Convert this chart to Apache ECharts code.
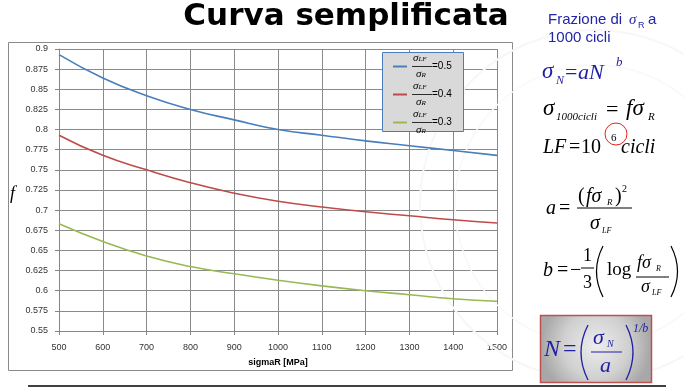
<!DOCTYPE html>
<html><head><meta charset="utf-8">
<script src="https://cdn.jsdelivr.net/npm/echarts@6/dist/echarts.min.js"></script>
<style>html,body{margin:0;padding:0;background:#fff}#c{width:684px;height:388px}</style>
</head><body><div id="c"></div>
<script>
// ---- data ----
const sigmaR = [500, 600, 700, 800, 900, 1000, 1100, 1200, 1300, 1400, 1500];
const ratios = ['0.5', '0.4', '0.3'];
const f05 = [0.893, 0.864, 0.842, 0.825, 0.812, 0.800, 0.793, 0.786, 0.780, 0.774, 0.768];
const f04 = [0.793, 0.768, 0.750, 0.734, 0.721, 0.711, 0.704, 0.698, 0.693, 0.688, 0.684];
const f03 = [0.683, 0.661, 0.643, 0.630, 0.621, 0.613, 0.606, 0.600, 0.595, 0.590, 0.587];
const yTicks = [0.55, 0.9, 0.025];
const xTicks = [500, 1500, 100];
const seriesValues = [f05, f04, f03];
const colors = ['#4a7ebb', '#be4b48', '#98b954'];

const chart = echarts.init(document.getElementById('c'), null, {renderer: 'canvas'});
const SERIF = 'Liberation Serif';
const BLUE = '#1f1fa3';

function T(x, base, text, size, o) {
  o = o || {};
  return {type: 'text', x: x, y: base - 0.33 * size, z: 100,
    style: Object.assign({text: text, fontSize: size, fontFamily: SERIF, fontStyle: 'italic',
      fill: '#000', align: 'left', verticalAlign: 'middle', textAlign: 'left', textVerticalAlign: 'middle'}, o)};
}
function U(x, base, text, size, o) { return T(x, base, text, size, Object.assign({fontStyle: 'normal'}, o || {})); }
function L(x1, y1, x2, y2, color, w) {
  return {type: 'line', z: 100, shape: {x1: x1, y1: y1, x2: x2, y2: y2}, style: {stroke: color || '#000', lineWidth: w || 1}};
}
function P(x, yTop, yBot, dx, color, w) { // parenthesis
  return {type: 'bezierCurve', z: 100, shape: {x1: x, y1: yTop, x2: x, y2: yBot, cpx1: x + dx, cpy1: (yTop + yBot) / 2},
    style: {stroke: color || '#000', lineWidth: w || 1.2, fill: null}};
}

const g = [];
// watermark
g.push({type: 'circle', z: 1, shape: {cx: 595, cy: 205, r: 175}, style: {fill: null, stroke: '#f7f7f7', lineWidth: 2}});
g.push({type: 'circle', z: 1, shape: {cx: 595, cy: 205, r: 140}, style: {fill: null, stroke: '#f8f8f8', lineWidth: 1.5}});
// chart frame
g.push({type: 'rect', z: 0, shape: {x: 8.5, y: 42.5, width: 504, height: 328}, style: {fill: '#fff', stroke: '#8a8a8a', lineWidth: 1}});
// legend box
g.push({type: 'rect', z: 50, shape: {x: 382.5, y: 52.5, width: 81, height: 79}, style: {fill: '#d9d9d9', stroke: '#4a7ebb', lineWidth: 1}});
// title
g.push({type: 'text', x: 346, y: 17, z: 100, style: {text: 'Curva semplificata', fontSize: 31, fontWeight: 'bold',
  fontFamily: 'DejaVu Sans', fill: '#000', align: 'center', verticalAlign: 'middle', textAlign: 'center', textVerticalAlign: 'middle'}});
// Frazione di sigmaR a
const FB = '#2424a8';
g.push(U(548, 25, 'Frazione di', 15, {fontFamily: 'Liberation Sans', fill: FB}));
g.push(T(629, 25, 'σ', 15, {fill: FB}));
g.push(U(638, 28, 'R', 9, {fontFamily: 'Liberation Sans', fill: FB}));
g.push(U(648, 25, 'a', 15, {fontFamily: 'Liberation Sans', fill: FB}));
g.push(U(548, 43, '1000 cicli', 15, {fontFamily: 'Liberation Sans', fill: FB}));
// sigma_N = a N^b
g.push(T(542, 80, 'σ', 23, {fill: BLUE}));
g.push(T(556, 85, 'N', 12, {fill: BLUE}));
g.push(U(565, 80, '=', 22, {fill: BLUE}));
g.push(T(578, 80, 'aN', 22, {fill: BLUE}));
g.push(T(616, 67, 'b', 13, {fill: BLUE}));
// sigma_1000cicli = f sigma_R
g.push(T(543, 117, 'σ', 23));
g.push(T(556, 121, '1000cicli', 11));
g.push(U(606, 117, '=', 22));
g.push(T(626, 117, 'fσ', 23));
g.push(T(648, 121, 'R', 11));
// LF = 10^6 cicli
g.push(T(543, 154, 'LF', 20));
g.push(U(569, 154, '=', 20));
g.push(U(581, 154, '10', 20));
g.push(U(611, 142, '6', 11));
g.push(T(621, 154, 'cicli', 20));
g.push({type: 'circle', z: 101, shape: {cx: 616, cy: 134, r: 11}, style: {fill: null, stroke: '#e02020', lineWidth: 1}});
// a = (f sigma_R)^2 / sigma_LF
g.push(T(546, 215, 'a', 20));
g.push(U(559, 215, '=', 20));
g.push(U(578, 203, '(', 20));
g.push(T(586, 203, 'fσ', 20));
g.push(T(607, 206, 'R', 9));
g.push(U(615, 203, ')', 20));
g.push(U(622, 193, '2', 10));
g.push(L(577, 208, 632, 208, '#000', 1));
g.push(T(590, 230, 'σ', 20));
g.push(T(602, 234, 'LF', 8));
// b = -1/3 ( log f sigma_R / sigma_LF )
g.push(T(543, 277, 'b', 20));
g.push(U(557, 277, '=', 20));
g.push(U(570, 277, '−', 20));
g.push(U(583, 262, '1', 18));
g.push(L(581, 268, 594, 268, '#000', 1));
g.push(U(583, 289, '3', 18));
g.push(P(603, 246, 297, -13));
g.push(U(607, 276, 'log', 19));
g.push(T(637, 269, 'fσ', 18));
g.push(T(656, 272, 'R', 8));
g.push(L(636, 277, 669, 277, '#000', 1));
g.push(T(641, 293, 'σ', 18));
g.push(T(652, 296, 'LF', 8));
g.push(P(671, 246, 297, 13));
// N box
g.push({type: 'rect', z: 90, shape: {x: 540.5, y: 315.5, width: 111, height: 67},
  style: {stroke: '#c0504d', lineWidth: 1.5,
    fill: {type: 'radial', x: 0.5, y: 0.45, r: 0.8, colorStops: [{offset: 0, color: '#ededed'}, {offset: 0.6, color: '#d0d0d0'}, {offset: 1, color: '#a8a8a8'}]}}});
g.push(T(544, 358, 'N', 24, {fill: BLUE}));
g.push(U(563, 358, '=', 24, {fill: BLUE}));
g.push(P(588, 325, 380, -14, BLUE, 1.3));
g.push(T(593, 345, 'σ', 22, {fill: BLUE}));
g.push(T(607, 348, 'N', 10, {fill: BLUE}));
g.push(L(591, 352, 622, 352, BLUE, 1));
g.push(T(600, 373, 'a', 22, {fill: BLUE}));
g.push(P(626, 325, 380, 14, BLUE, 1.3));
g.push(T(633, 333, '1/b', 12, {fill: BLUE}));
// y name f
g.push(T(10, 200, 'f', 18));
// bottom slide line
g.push(L(28, 386, 666, 386, '#000', 1.5));

const sub = {fontFamily: SERIF, fontStyle: 'italic', color: '#000'};
chart.setOption({
  animation: false,
  grid: {left: 59, right: 187, top: 49, bottom: 57, containLabel: false},
  xAxis: {
    type: 'value', min: xTicks[0], max: xTicks[1], interval: xTicks[2],
    name: 'sigmaR [MPa]', nameLocation: 'middle', nameGap: 27,
    nameTextStyle: {fontSize: 9, fontWeight: 'bold', color: '#000', fontFamily: 'Liberation Sans'},
    axisLine: {lineStyle: {color: '#868686'}},
    axisTick: {show: true, length: 4, lineStyle: {color: '#868686'}},
    axisLabel: {fontSize: 9, color: '#333', fontFamily: 'Liberation Sans', margin: 12, formatter: v => String(v)},
    splitLine: {show: true, lineStyle: {color: '#8a8a8a', width: 1}}
  },
  yAxis: {
    type: 'value', min: yTicks[0], max: yTicks[1], interval: yTicks[2],
    axisLine: {show: true, lineStyle: {color: '#868686'}},
    axisTick: {show: true, length: 4, lineStyle: {color: '#868686'}},
    axisLabel: {fontSize: 9, color: '#333', fontFamily: 'Liberation Sans', margin: 11,
      formatter: v => String(+v.toFixed(3))},
    splitLine: {show: true, lineStyle: {color: '#8a8a8a', width: 1}}
  },
  legend: {
    orient: 'vertical', left: 388, top: 48, itemWidth: 14, itemHeight: 2, itemGap: 1, icon: 'rect', z: 60,
    data: ratios.map(r => 'σLF/σR=' + r),
    formatter: name => {
      const r = name.split('=')[1];
      return '{n|σ}{ns|LF}\n{bar| }{eq|=' + r + '}\n{d|σ}{ds|R}';
    },
    textStyle: {
      rich: {
        n: Object.assign({fontSize: 11, lineHeight: 8, padding: [0, 0, 0, 1]}, sub),
        ns: Object.assign({fontSize: 7, lineHeight: 8, verticalAlign: 'bottom'}, sub),
        bar: {width: 20, height: 0.8, lineHeight: 8, backgroundColor: '#000', verticalAlign: 'middle'},
        eq: {fontSize: 10, lineHeight: 8, color: '#000', fontFamily: 'Liberation Sans'},
        d: Object.assign({fontSize: 11, lineHeight: 8, padding: [0, 0, 0, 4]}, sub),
        ds: Object.assign({fontSize: 7, lineHeight: 8, verticalAlign: 'bottom'}, sub)
      }
    }
  },
  graphic: g,
  series: seriesValues.map((vals, i) => ({
    name: 'σLF/σR=' + ratios[i], type: 'line', smooth: true, showSymbol: false,
    data: sigmaR.map((x, j) => [x, vals[j]]),
    lineStyle: {color: colors[i], width: 1.6}, itemStyle: {color: colors[i]}
  }))
});
</script></body></html>
